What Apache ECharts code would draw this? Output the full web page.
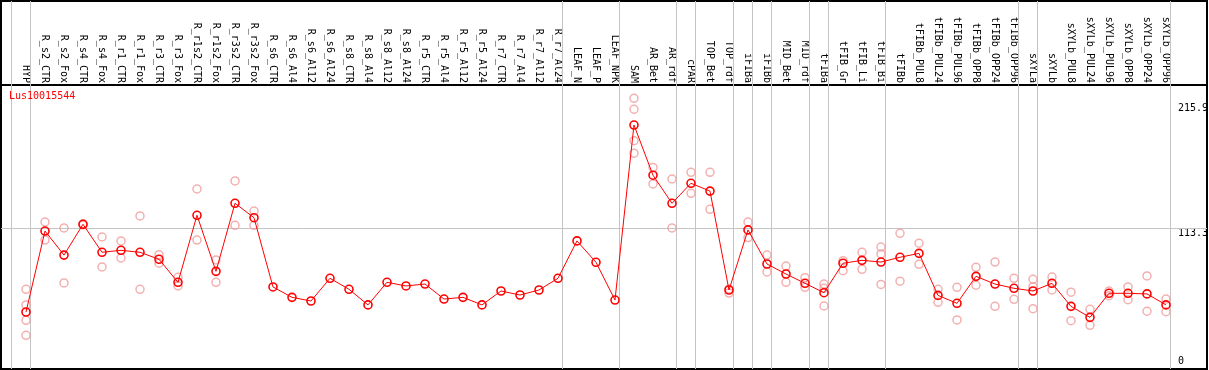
<!DOCTYPE html>
<html>
<head>
<meta charset="utf-8">
<script src="https://cdn.jsdelivr.net/npm/echarts@6/dist/echarts.min.js"></script>
<style>
html,body{margin:0;padding:0;background:#fff;}
#chart{width:1209px;height:370px;}
</style>
</head>
<body>
<div id="chart"></div>
<script>
const categories = ["HYP","R_s2_CTR","R_s2_Fox","R_s4_CTR","R_s4_Fox","R_r1_CTR","R_r1_Fox","R_r3_CTR","R_r3_Fox","R_r1s2_CTR","R_r1s2_Fox","R_r3s2_CTR","R_r3s2_Fox","R_s6_CTR","R_s6_Al4","R_s6_Al12","R_s6_Al24","R_s8_CTR","R_s8_Al4","R_s8_Al12","R_s8_Al24","R_r5_CTR","R_r5_Al4","R_r5_Al12","R_r5_Al24","R_r7_CTR","R_r7_Al4","R_r7_Al12","R_r7_Al24","LEAF_N","LEAF_P","LEAF_NPK","SAM","AR_Bet","AR_rdf","cPAR","TOP_Bet","TOP_rdf","iFIBa","iFIBb","MID_Bet","MID_rdf","tFIBa","tFIB_Gr","tFIB_Li","tFIB_Bi","tFIBb","tFIBb_PUL8","tFIBb_PUL24","tFIBb_PUL96","tFIBb_OPP8","tFIBb_OPP24","tFIBb_OPP96","sXYLa","sXYLb","sXYLb_PUL8","sXYLb_PUL24","sXYLb_PUL96","sXYLb_OPP8","sXYLb_OPP24","sXYLb_OPP96"];

const means = [44.8,111.1,91.4,116.6,93.7,95.3,93.7,88.0,69.1,124.0,78.1,133.8,122.0,65.3,56.8,53.8,72.4,63.4,50.6,69.1,66.1,67.7,55.4,56.8,50.6,62.0,58.7,62.8,72.4,103.0,85.5,54.6,197.9,156.8,133.8,150.2,143.8,62.8,112.0,84.1,75.9,68.3,60.6,84.7,87.1,85.7,89.6,92.8,58.4,51.9,74.0,67.7,64.2,62.0,68.3,49.4,40.4,60.1,60.1,59.6,50.6];

const replicates = [
  [63.4,50.6,38.0,25.7],[118.5,103.7],[113.6,68.6],[117.0,116.1],[106.2,81.7],[103.0,89.0],[123.5,63.4],[91.7,84.7],[73.2,66.1],[145.5,103.7],[87.4,69.1],[152.1,115.8],[127.5,115.8],
  [],[],[],[],[],[],[],[],[],[],[],[],[],[],[],[],[],[],[],
  [219.8,210.8,185.1,174.8],[163.2,149.7],[153.7,113.6],[159.2,142.0],[159.2,128.9],[63.6,60.3],[118.5,105.7],[91.4,77.6],[82.4,69.1],[72.9,65.0],[67.7,64.3,49.7],[86.8,78.6],[93.7,79.7],[98.0,92.3,67.4],[109.2,70.0],[101.1,83.8],[63.4,52.7],[65.0,38.3],[81.4,66.7],[85.7,49.4],[72.4,55.2],[71.6,65.5,47.5],[73.4,62.8],[61.0,37.7],[47.0,33.9],[62.0,58.2],[65.3,54.9],[74.3,45.4],[55.4,45.0]
];

const yTickValuesUpper = [113.3, 215.9];
const yTickValuesLower = [0];
const gridValue = 113.3;
const groupBreaks = [-0.8, 0.24, 28.24, 31.24, 34.24, 35.24, 37.24, 38.24, 39.24, 41.24, 42.24, 45.24, 52.24, 53.24, 60.22];
const geneName = "Lus10015544";

const mono = "DejaVu Sans Mono";
const meanData = means.map((v, i) => [i, v]);
const repData = [];
replicates.forEach((arr, i) => arr.forEach(v => repData.push([i, v])));

const xMin = -1.3158, xMax = 62.158;
const yMin = -1.88, yMax = 230.67;
const yLabelBase = {
  inside: true, align: 'left', margin: 29,
  fontFamily: mono, fontSize: 10, color: '#000',
  formatter: v => String(v)
};
const breakLine = {
  silent: true, symbol: 'none', label: {show: false},
  lineStyle: {color: '#c4c4c4', width: 1, type: 'solid'}
};

const chart = echarts.init(document.getElementById('chart'), null, {renderer: 'canvas'});
chart.setOption({
  animation: false,
  backgroundColor: '#fff',
  title: {
    text: geneName, left: 9, top: 91, padding: 0,
    textStyle: {color: '#ff0000', fontSize: 10, fontWeight: 'normal', fontFamily: mono}
  },
  grid: [
    {
      left: 1, right: 2, top: 1, height: 84,
      show: true, borderColor: '#000', borderWidth: 2, backgroundColor: 'transparent',
      containLabel: false, outerBoundsMode: 'none'
    },
    {
      left: 1, right: 2, top: 85, bottom: 1,
      show: true, borderColor: '#000', borderWidth: 2, backgroundColor: 'transparent',
      containLabel: false, outerBoundsMode: 'none'
    }
  ],
  xAxis: [
    {
      gridIndex: 0, type: 'value', min: xMin, max: xMax, show: false
    },
    {
      gridIndex: 1, type: 'value', position: 'top',
      min: xMin, max: xMax,
      axisLine: {show: true, onZero: false, lineStyle: {color: '#000', width: 2}},
      axisTick: {show: false},
      splitLine: {show: false},
      axisLabel: {
        customValues: categories.map((c, i) => i),
        rotate: 90, margin: 2,
        fontFamily: mono, fontSize: 10, color: '#000',
        formatter: v => categories[Math.round(v)] || ''
      }
    }
  ],
  yAxis: [
    {gridIndex: 0, type: 'value', min: 0, max: 1, show: false},
    {
      gridIndex: 1, type: 'value', position: 'right', min: yMin, max: yMax,
      axisLine: {show: false}, axisTick: {show: false}, splitLine: {show: false},
      axisLabel: Object.assign({customValues: yTickValuesUpper, verticalAlign: 'top'}, yLabelBase)
    },
    {
      gridIndex: 1, type: 'value', position: 'right', min: yMin, max: yMax,
      axisLine: {show: false}, axisTick: {show: false}, splitLine: {show: false},
      axisLabel: Object.assign({customValues: yTickValuesLower, verticalAlign: 'bottom'}, yLabelBase)
    }
  ],
  series: [
    {
      type: 'line', xAxisIndex: 0, yAxisIndex: 0, data: [[0, -5]], showSymbol: false,
      lineStyle: {opacity: 0}, silent: true,
      markLine: Object.assign({data: groupBreaks.map(b => ({xAxis: b}))}, breakLine)
    },
    {
      type: 'scatter', xAxisIndex: 1, yAxisIndex: 1, data: repData, symbol: 'circle', symbolSize: 8, z: 2,
      itemStyle: {color: 'rgba(0,0,0,0)', borderColor: '#f09c9c', borderWidth: 1.5},
      silent: true
    },
    {
      type: 'line', xAxisIndex: 1, yAxisIndex: 1, data: meanData, symbol: 'circle', symbolSize: 8, z: 3,
      lineStyle: {color: '#ff0000', width: 1},
      itemStyle: {color: 'rgba(0,0,0,0)', borderColor: '#ff0000', borderWidth: 1.6},
      markLine: Object.assign({z: 1, data: groupBreaks.map(b => ({xAxis: b})).concat([{yAxis: gridValue}])}, breakLine)
    }
  ]
});
</script>
</body>
</html>
